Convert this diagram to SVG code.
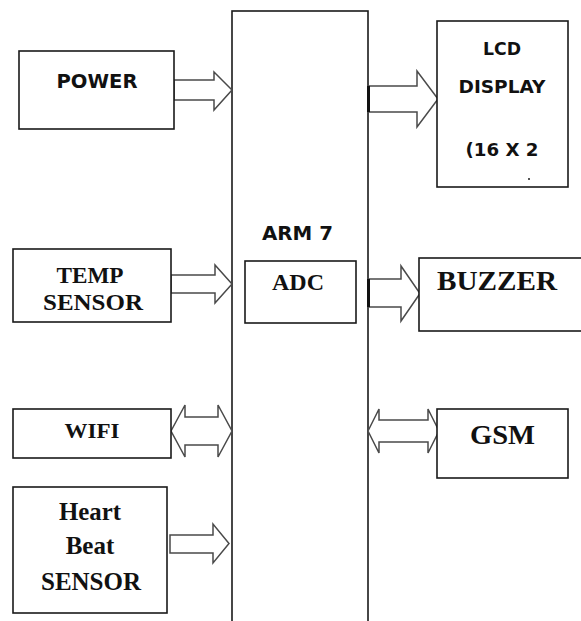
<svg xmlns="http://www.w3.org/2000/svg" width="581" height="621" viewBox="0 0 581 621">
<style>
.box{fill:#fff;stroke:#1a1a1a;stroke-width:1.6}
.arw{fill:#fff;stroke:#4a4a4a;stroke-width:1.5;stroke-linejoin:miter}
.stub{stroke:#111;stroke-width:3}
.sans{font-family:"DejaVu Sans","Liberation Sans",sans-serif;font-weight:bold;fill:#111;text-anchor:middle}
.serif{font-family:"Liberation Serif","Times New Roman",serif;font-weight:bold;fill:#111;text-anchor:middle}
</style>
<rect width="581" height="621" fill="#fff"/>
<g id="arm7">
<rect class="box" x="232" y="11" width="136" height="640"/>
<text class="sans" x="297.5" y="240" font-size="20" textLength="71" lengthAdjust="spacingAndGlyphs">ARM 7</text>
</g>
<g id="connectors">
<polygon class="arw" points="174,80 214,80 214,72 232,90 214,110 214,100 174,100"/>
<polygon class="arw" points="368,86 417,86 417,71 438,99 417,127 417,112 368,112"/>
<line class="stub" x1="368.5" y1="86" x2="368.5" y2="112"/>
<polygon class="arw" points="171,275 215,275 215,265 232,284 215,303 215,293 171,293"/>
<polygon class="arw" points="368,279 401,279 401,266 420,293.5 401,321 401,307 368,307"/>
<line class="stub" x1="368.5" y1="279" x2="368.5" y2="307"/>
<polygon class="arw" points="171,431 185,405 185,417 218,417 218,405 232,431 218,457 218,445 185,445 185,457"/>
<polygon class="arw" points="170,535 213,535 213,524 229,543.5 213,563 213,553 170,553"/>
<polygon class="arw" points="368,431 379,409 379,420 428,420 428,409 439,431 428,453 428,442 379,442 379,453"/>
</g>
<g id="adc">
<rect class="box" x="245" y="261" width="111" height="62"/>
<text class="serif" x="298" y="290" font-size="24">ADC</text>
</g>
<g id="power">
<rect class="box" x="19" y="51" width="155" height="78"/>
<text class="sans" x="97" y="88" font-size="20" textLength="81" lengthAdjust="spacingAndGlyphs">POWER</text>
</g>
<g id="lcd">
<rect class="box" x="437" y="21" width="131" height="166"/>
<text class="sans" x="502" y="55" font-size="18" textLength="38" lengthAdjust="spacingAndGlyphs">LCD</text>
<text class="sans" x="502" y="93" font-size="18" textLength="87" lengthAdjust="spacingAndGlyphs">DISPLAY</text>
<text class="sans" x="502" y="156" font-size="18" textLength="73" lengthAdjust="spacingAndGlyphs">(16 X 2</text>
<rect x="528" y="178" width="2" height="2" fill="#555"/>
</g>
<g id="temp">
<rect class="box" x="13" y="249" width="158" height="73"/>
<text class="serif" x="90" y="283" font-size="24" textLength="67" lengthAdjust="spacingAndGlyphs">TEMP</text>
<text class="serif" x="93" y="310" font-size="24" textLength="100" lengthAdjust="spacingAndGlyphs">SENSOR</text>
</g>
<g id="buzzer">
<rect class="box" x="419" y="258" width="175" height="73"/>
<text class="serif" x="497" y="290" font-size="28" textLength="120" lengthAdjust="spacingAndGlyphs">BUZZER</text>
</g>
<g id="wifi">
<rect class="box" x="13" y="409" width="158" height="49"/>
<text class="serif" x="92" y="438" font-size="22" textLength="55" lengthAdjust="spacingAndGlyphs">WIFI</text>
</g>
<g id="gsm">
<rect class="box" x="437" y="409" width="131" height="69"/>
<text class="serif" x="502.5" y="444" font-size="28" textLength="65" lengthAdjust="spacingAndGlyphs">GSM</text>
</g>
<g id="heartbeat">
<rect class="box" x="13" y="487" width="154" height="126"/>
<text class="serif" x="90" y="520" font-size="25" textLength="62" lengthAdjust="spacingAndGlyphs">Heart</text>
<text class="serif" x="90" y="554" font-size="25">Beat</text>
<text class="serif" x="91" y="590" font-size="25" textLength="100" lengthAdjust="spacingAndGlyphs">SENSOR</text>
</g>
</svg>
